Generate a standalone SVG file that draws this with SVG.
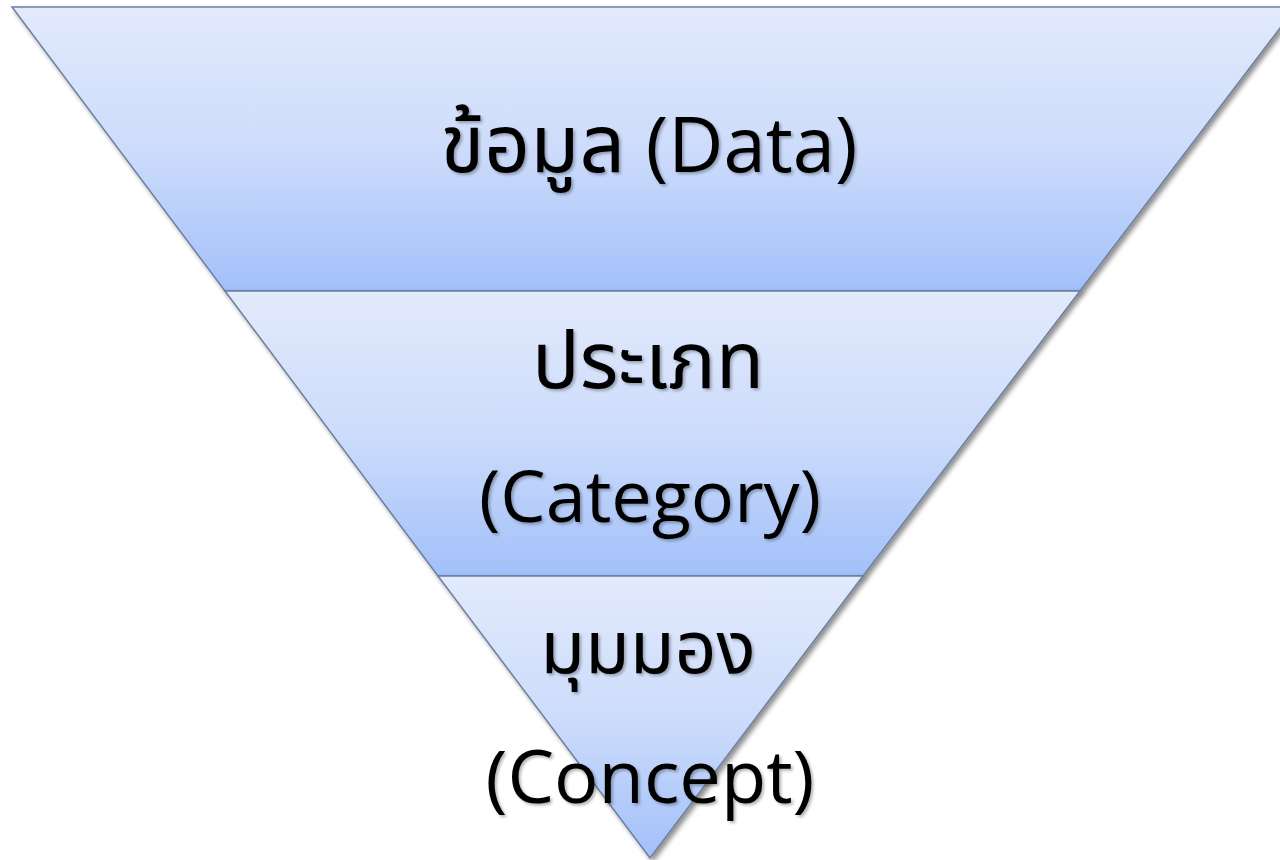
<svg xmlns="http://www.w3.org/2000/svg" width="1280" height="860" viewBox="0 0 1280 860">
  <defs>
    <linearGradient id="bandGrad" x1="0" y1="0" x2="0" y2="1">
      <stop offset="0" stop-color="#e2eafc"/>
      <stop offset="0.5" stop-color="#cddcfb"/>
      <stop offset="1" stop-color="#a2c0f9"/>
    </linearGradient>
    <filter id="shadow" x="-10%" y="-10%" width="120%" height="120%">
      <feGaussianBlur in="SourceAlpha" stdDeviation="2.5"/>
      <feOffset dx="3" dy="3" result="b"/>
      <feComponentTransfer><feFuncA type="linear" slope="0.45"/></feComponentTransfer>
      <feMerge><feMergeNode/><feMergeNode in="SourceGraphic"/></feMerge>
    </filter>
    <filter id="tshadow" x="-10%" y="-20%" width="120%" height="140%">
      <feGaussianBlur in="SourceAlpha" stdDeviation="1.5"/>
      <feOffset dx="2" dy="2"/>
      <feComponentTransfer><feFuncA type="linear" slope="0.3"/></feComponentTransfer>
      <feMerge><feMergeNode/><feMergeNode in="SourceGraphic"/></feMerge>
    </filter>
  </defs>
  <style>
    .band { fill: url(#bandGrad); stroke: #6d7f9f; stroke-width: 1.5; filter: url(#shadow); }
    .lbl { font-family: "Open Sans", "Noto Sans", "Noto Sans Thai", sans-serif; fill: #000; text-anchor: middle; filter: url(#tshadow); }
  </style>
  <rect width="1280" height="860" fill="#ffffff"/>
  <g id="band-data">
    <polygon class="band" points="12,7 1296,7 1080,291 225,291"/>
  </g>
  <g id="band-category">
    <polygon class="band" points="225,291 1080,291 863,576 438,576"/>
  </g>
  <g id="band-concept">
    <polygon class="band" points="438,576 863,576 650,858"/>
  </g>
  <g id="labels">
    <text class="lbl" x="649" y="172" style="font-size:80px">ข้อมูล <tspan style="font-size:76px">(Data)</tspan></text>
    <text class="lbl" x="648" y="388" style="font-size:79px">ประเภท</text>
    <text class="lbl" x="650" y="522" style="font-size:72px">(Category)</text>
    <text class="lbl" x="648" y="673" style="font-size:73px">มุมมอง</text>
    <text class="lbl" x="650" y="803" style="font-size:74px">(Concept)</text>
  </g>
</svg>
